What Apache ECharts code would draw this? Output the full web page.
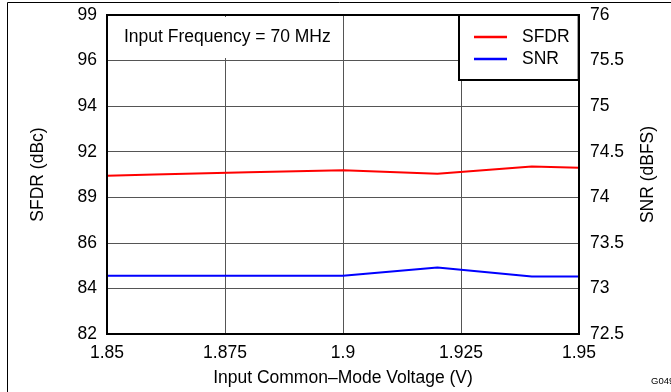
<!DOCTYPE html>
<html><head><meta charset="utf-8">
<script src="https://cdn.jsdelivr.net/npm/echarts@6/dist/echarts.min.js"></script>
<style>html,body{margin:0;padding:0;background:#fff}#c{width:671px;height:392px}</style>
</head><body><div id="c"></div>
<script>
const voltages = [1.85, 1.86, 1.88, 1.9, 1.92, 1.94, 1.95];
const sfdr = [90.44, 90.50, 90.62, 90.73, 90.54, 90.92, 90.86];
const snr = [73.14, 73.14, 73.14, 73.14, 73.23, 73.13, 73.13];
const sfdrTickLabels = ['82', '84', '86', '89', '92', '94', '96', '99'];
const xTickLabels = ['1.85', '1.875', '1.9', '1.925', '1.95'];
const snrTickLabels = ['72.5', '73', '73.5', '74', '74.5', '75', '75.5', '76'];

const FONT = 'Liberation Sans, Arial, sans-serif';
const FS = 17.5;
const G = {left: 107, top: 15, width: 472, height: 319};

const chart = echarts.init(document.getElementById('c'), null, {renderer: 'canvas'});
chart.setOption({
  animation: false,
  textStyle: {fontFamily: FONT},
  grid: {left: G.left, top: G.top, width: G.width, height: G.height, containLabel: false},
  xAxis: {
    type: 'value', min: 1.85, max: 1.95, interval: 0.025,
    axisLine: {lineStyle: {color: '#000', width: 2}},
    axisTick: {show: false},
    splitLine: {show: true, lineStyle: {color: '#555', width: 1}},
    axisLabel: {color: '#000', fontSize: FS, fontFamily: FONT, margin: 10,
      formatter: (v) => xTickLabels[Math.round((v - 1.85) / 0.025)]},
    name: 'Input Common\u2013Mode Voltage (V)', nameLocation: 'middle', nameGap: 35,
    nameTextStyle: {color: '#000', fontSize: FS, fontFamily: FONT}
  },
  yAxis: [
    {type: 'value', min: 82, max: 99, show: false, position: 'left'},
    {type: 'value', min: 0, max: 7, interval: 1, position: 'left',
      axisLine: {show: true, lineStyle: {color: '#000', width: 2}},
      axisTick: {show: false}, splitLine: {show: false},
      axisLabel: {color: '#000', fontSize: FS, fontFamily: FONT, margin: 10,
        formatter: (v) => sfdrTickLabels[Math.round(v)]},
      name: 'SFDR (dBc)', nameLocation: 'middle', nameGap: 60, nameRotate: 90,
      nameTextStyle: {color: '#000', fontSize: FS, fontFamily: FONT}},
    {type: 'value', min: 72.5, max: 76, interval: 0.5, position: 'right',
      axisLine: {show: true, lineStyle: {color: '#000', width: 2}},
      axisTick: {show: false},
      splitLine: {show: true, lineStyle: {color: '#555', width: 1}},
      axisLabel: {color: '#000', fontSize: FS, fontFamily: FONT, margin: 11,
        formatter: (v) => snrTickLabels[Math.round((v - 72.5) / 0.5)]},
      name: 'SNR (dBFS)', nameLocation: 'middle', nameGap: 60, nameRotate: 90,
      nameTextStyle: {color: '#000', fontSize: FS, fontFamily: FONT}}
  ],
  legend: {
    left: 459, top: 15, orient: 'vertical',
    backgroundColor: '#fff', borderColor: '#000', borderWidth: 2, borderRadius: 0,
    padding: [13, 9, 12, 15], itemGap: 4, itemWidth: 33, itemHeight: 2.5,
    icon: 'rect',
    textStyle: {color: '#000', fontSize: FS, fontFamily: FONT, padding: [0, 0, 0, 10]},
    data: ['SFDR', 'SNR']
  },
  graphic: [
    {type: 'rect', z: 1, shape: {x: 109, y: 17, width: 230, height: 41}, style: {fill: '#fff'}},
    {type: 'text', z: 2, x: 124, y: 37, style: {text: 'Input Frequency = 70 MHz', fill: '#000',
      font: FS + 'px ' + FONT, textVerticalAlign: 'middle', verticalAlign: 'middle'}},
    {type: 'rect', z: 50, shape: {x: G.left, y: G.top, width: G.width, height: G.height},
      style: {fill: 'none', stroke: '#000', lineWidth: 2}},
    {type: 'rect', z: 50, shape: {x: 7.5, y: 2.5, width: 700, height: 420},
      style: {fill: 'none', stroke: '#000', lineWidth: 1}},
    {type: 'text', z: 50, x: 651, y: 381, style: {text: 'G049', fill: '#000',
      font: '9.5px ' + FONT, verticalAlign: 'middle', textVerticalAlign: 'middle'}}
  ],
  series: [
    {name: 'SFDR', type: 'line', yAxisIndex: 0, symbol: 'none', z: 3,
      itemStyle: {color: '#ff0000'}, lineStyle: {color: '#ff0000', width: 2},
      data: voltages.map((v, i) => [v, sfdr[i]])},
    {name: 'SNR', type: 'line', yAxisIndex: 2, symbol: 'none', z: 3,
      itemStyle: {color: '#0000ff'}, lineStyle: {color: '#0000ff', width: 2},
      data: voltages.map((v, i) => [v, snr[i]])}
  ]
});
</script></body></html>
